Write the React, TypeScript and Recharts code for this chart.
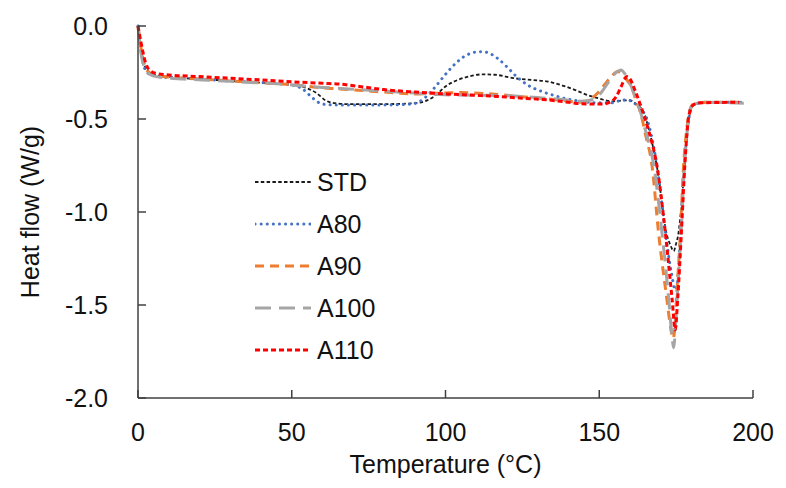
import React from 'react';
import { LineChart, Line, XAxis, YAxis, Legend, Label } from 'recharts';

// DSC heat-flow curves
const stdTemp = [0, 1, 2, 3, 5, 8, 15, 25, 35, 45, 52, 55, 58, 61, 64, 68, 80, 90, 94, 97, 100, 104, 108, 112, 116, 122, 128, 133, 138, 142, 146, 150, 154, 158, 160, 162, 164.5, 166.5, 169, 171.8, 173.2, 174.2, 175, 175.8, 176.8, 177.8, 178.8, 179.8, 181, 185, 196];
const stdFlow = [0, -0.13, -0.21, -0.24, -0.26, -0.27, -0.28, -0.29, -0.3, -0.31, -0.32, -0.335, -0.36, -0.4, -0.415, -0.42, -0.42, -0.415, -0.4, -0.37, -0.325, -0.29, -0.27, -0.26, -0.262, -0.28, -0.29, -0.298, -0.32, -0.343, -0.37, -0.39, -0.405, -0.4, -0.4, -0.42, -0.467, -0.58, -0.78, -1.11, -1.18, -1.21, -1.17, -1.11, -0.95, -0.74, -0.55, -0.45, -0.42, -0.41, -0.41];

const a80Temp = [0, 1, 2, 3, 5, 8, 15, 25, 35, 45, 51, 54, 57, 60, 65, 80, 89, 93, 96, 100, 104, 107, 110, 112, 114, 117, 120, 123, 127, 131, 135, 139, 144, 150, 154, 157, 159, 161, 163, 165.5, 168.8, 171.5, 173.5, 174.7, 175.5, 176.4, 177.6, 178.8, 180, 181, 185, 196];
const a80Flow = [0, -0.14, -0.22, -0.25, -0.265, -0.275, -0.28, -0.29, -0.3, -0.31, -0.32, -0.345, -0.39, -0.42, -0.425, -0.425, -0.42, -0.39, -0.34, -0.26, -0.19, -0.155, -0.14, -0.138, -0.145, -0.175, -0.22, -0.27, -0.32, -0.35, -0.372, -0.39, -0.405, -0.413, -0.413, -0.4, -0.397, -0.41, -0.44, -0.5, -0.756, -1.11, -1.33, -1.418, -1.36, -1.113, -0.77, -0.53, -0.44, -0.42, -0.41, -0.41];

const a90Temp = [0, 1, 2, 3, 5, 8, 15, 25, 35, 45, 52, 58, 65, 73, 80, 90, 95, 100, 105, 111, 118, 125, 132, 138, 144, 147, 149.5, 152, 154, 156, 157.5, 159, 160.5, 162, 163.5, 165, 167.2, 169.3, 172, 173.2, 174, 174.6, 175.1, 176.4, 177.4, 178.5, 179.5, 180.7, 185, 196];
const a90Flow = [0, -0.12, -0.2, -0.24, -0.262, -0.272, -0.28, -0.29, -0.3, -0.31, -0.318, -0.33, -0.338, -0.347, -0.355, -0.365, -0.362, -0.36, -0.358, -0.361, -0.37, -0.38, -0.39, -0.4, -0.41, -0.395, -0.36, -0.31, -0.27, -0.245, -0.26, -0.29, -0.33, -0.4, -0.47, -0.58, -0.756, -1.113, -1.47, -1.62, -1.68, -1.62, -1.47, -1.113, -0.756, -0.55, -0.45, -0.42, -0.41, -0.41];

const a100Temp = [0, 1, 2, 3, 5, 8, 15, 25, 35, 45, 52, 60, 70, 80, 90, 100, 110, 120, 130, 138, 144, 148, 151, 153.5, 155.5, 157, 158.5, 160, 161.5, 163, 165, 167.8, 170.4, 172.6, 173.6, 174.2, 174.8, 175.3, 176.6, 177.7, 178.8, 179.8, 181, 185, 197];
const a100Flow = [0, -0.15, -0.22, -0.25, -0.268, -0.277, -0.285, -0.293, -0.302, -0.31, -0.32, -0.33, -0.34, -0.35, -0.36, -0.37, -0.372, -0.375, -0.385, -0.395, -0.405, -0.395, -0.35, -0.29, -0.25, -0.236, -0.26, -0.31, -0.37, -0.44, -0.56, -0.756, -1.113, -1.47, -1.66, -1.73, -1.62, -1.47, -1.113, -0.756, -0.53, -0.44, -0.42, -0.41, -0.415];

const a110Temp = [0, 1, 2, 3, 4, 6, 10, 20, 30, 40, 50, 60, 66, 72, 80, 90, 100, 110, 117, 125, 133, 140, 144, 151, 153.5, 155.5, 157, 158.3, 159, 160, 161.5, 163.5, 166, 168.8, 171.5, 173.7, 174.7, 175.5, 176.7, 177.8, 179.1, 180.5, 183, 195.5];
const a110Flow = [0, -0.09, -0.17, -0.22, -0.24, -0.255, -0.263, -0.272, -0.281, -0.29, -0.3, -0.308, -0.313, -0.325, -0.342, -0.355, -0.365, -0.373, -0.379, -0.388, -0.397, -0.41, -0.418, -0.42, -0.41, -0.38, -0.33, -0.285, -0.272, -0.285, -0.34, -0.43, -0.56, -0.756, -1.113, -1.47, -1.633, -1.47, -1.113, -0.756, -0.487, -0.425, -0.413, -0.41];

const xTicks = [0, 50, 100, 150, 200];
const yTicks = [-2, -1.5, -1, -0.5, 0];

const toPoints = (temps: number[], flows: number[]) => temps.map((t, i) => ({ t, v: flows[i] }));

const series = [
  { name: 'STD', data: toPoints(stdTemp, stdFlow), color: '#1a1a1a', width: 1.8, dash: '3.5 2.3', cap: 'butt' },
  { name: 'A80', data: toPoints(a80Temp, a80Flow), color: '#4472C4', width: 3, dash: '0.1 6', cap: 'round' },
  { name: 'A90', data: toPoints(a90Temp, a90Flow), color: '#ED7D31', width: 3, dash: '9 6', cap: 'butt' },
  { name: 'A100', data: toPoints(a100Temp, a100Flow), color: '#A5A5A5', width: 3, dash: '16 8', cap: 'butt' },
  { name: 'A110', data: toPoints(a110Temp, a110Flow), color: '#FF0000', width: 3, dash: '5 3', cap: 'butt' },
];

const FONT = '"Liberation Sans", Arial, sans-serif';

const renderLegend = () => (
  <div style={{ fontFamily: FONT }}>
    {series.map(s => (
      <div key={s.name} style={{ display: 'flex', alignItems: 'center', height: 42 }}>
        <svg width={56} height={10} style={{ marginRight: 6 }}>
          <line x1={0} y1={5} x2={56} y2={5} stroke={s.color} strokeWidth={s.width}
            strokeDasharray={s.dash} strokeLinecap={s.cap as any} />
        </svg>
        <span style={{ fontSize: 25, color: '#111' }}>{s.name}</span>
      </div>
    ))}
  </div>
);

const App = () => (
  <div style={{ position: 'absolute', left: 0, top: 0, width: 786, height: 488, background: '#fff' }}>
    <LineChart width={786} height={488} margin={{ top: 26, right: 33, left: 0, bottom: 0 }}>
      <XAxis
        type="number"
        dataKey="t"
        domain={[0, 200]}
        ticks={xTicks}
        height={90}
        tickSize={-8}
        tickMargin={33}
        stroke="#404040"
        strokeWidth={1.5}
        tick={{ fill: '#111', fontSize: 25, fontFamily: FONT }}
      >
        <Label
          content={({ viewBox }: any) => (
            <text x={viewBox.x + viewBox.width / 2} y={viewBox.y + 75} textAnchor="middle"
              fontSize={25} fontFamily={FONT} fill="#111">Temperature (°C)</text>
          )}
        />
      </XAxis>
      <YAxis
        type="number"
        domain={[-2, 0]}
        ticks={yTicks}
        width={138}
        tickSize={-8}
        tickMargin={38}
        stroke="#404040"
        strokeWidth={1.5}
        tickFormatter={(v: number) => v.toFixed(1)}
        tick={{ fill: '#111', fontSize: 25, fontFamily: FONT }}
      >
        <Label
          content={({ viewBox }: any) => {
            const cx = viewBox.x + 30;
            const cy = viewBox.y + viewBox.height / 2;
            return (
              <text x={cx} y={cy} transform={`rotate(-90 ${cx} ${cy})`} textAnchor="middle"
                dominantBaseline="central" fontSize={25} fontFamily={FONT} fill="#111">Heat flow (W/g)</text>
            );
          }}
        />
      </YAxis>
      <Legend
        layout="vertical"
        align="center"
        verticalAlign="middle"
        content={renderLegend}
        wrapperStyle={{ left: 255, top: 161, width: 160 }}
      />
      {series.map(s => (
        <Line
          key={s.name}
          data={s.data}
          dataKey="v"
          name={s.name}
          type="monotone"
          stroke={s.color}
          strokeWidth={s.width}
          strokeDasharray={s.dash}
          strokeLinecap={s.cap as any}
          dot={false}
          activeDot={false}
          isAnimationActive={false}
        />
      ))}
    </LineChart>
  </div>
);

export default App;
